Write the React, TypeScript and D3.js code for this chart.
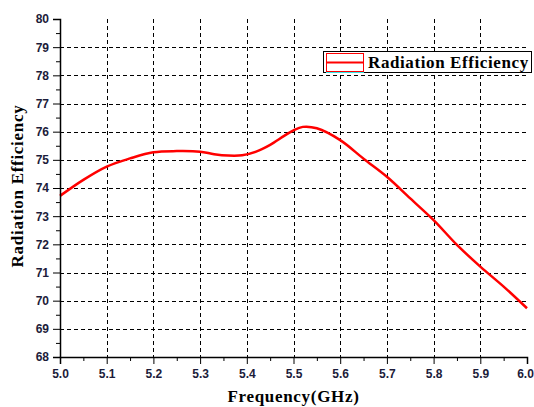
import React, { useEffect, useRef } from "react";
import * as d3 from "d3";

const freq = [5.0, 5.05, 5.1, 5.15, 5.2, 5.25, 5.3, 5.33, 5.36, 5.39, 5.42, 5.45, 5.48, 5.5, 5.52, 5.55, 5.6, 5.65, 5.7, 5.75, 5.8, 5.85, 5.9, 5.95, 6.0];
const efficiency = [73.72, 74.29, 74.76, 75.05, 75.27, 75.31, 75.29, 75.2, 75.15, 75.16, 75.29, 75.53, 75.85, 76.05, 76.17, 76.12, 75.7, 75.04, 74.4, 73.63, 72.86, 71.98, 71.21, 70.5, 69.73];
const xTicks = [5.0, 5.1, 5.2, 5.3, 5.4, 5.5, 5.6, 5.7, 5.8, 5.9, 6.0];
const yTicks = [68, 69, 70, 71, 72, 73, 74, 75, 76, 77, 78, 79, 80];
const seriesName = "Radiation Efficiency";

const App = () => {
  const svgRef = useRef<SVGSVGElement>(null);

  useEffect(() => {
    const svg = d3.select(svgRef.current);
    svg.selectAll("*").remove();

    const width = 534;
    const height = 407;
    const left = 60, right = 527, top = 19, bottom = 357;

    svg.attr("width", width).attr("height", height);
    svg.append("rect").attr("width", width).attr("height", height).attr("fill", "#fff");

    const x = d3.scaleLinear().domain([5.0, 6.0]).range([left, right]);
    const y = d3.scaleLinear().domain([68, 80]).range([bottom, top]);

    // Grid
    const grid = svg.append("g").attr("stroke", "#000").attr("stroke-width", 1).attr("stroke-dasharray", "4,3");
    grid.selectAll("line.v")
      .data(xTicks.slice(1, -1))
      .enter()
      .append("line")
      .attr("x1", d => Math.round(x(d)) + 0.5)
      .attr("x2", d => Math.round(x(d)) + 0.5)
      .attr("y1", top)
      .attr("y2", bottom);
    grid.selectAll("line.h")
      .data(yTicks.slice(1, -1))
      .enter()
      .append("line")
      .attr("x1", left)
      .attr("x2", right)
      .attr("y1", d => Math.round(y(d)) + 0.5)
      .attr("y2", d => Math.round(y(d)) + 0.5);

    // Curve
    const line = d3.line<number>()
      .x((d, i) => x(freq[i]))
      .y(d => y(d))
      .curve(d3.curveCatmullRom.alpha(0.5));
    svg.append("path")
      .datum(efficiency)
      .attr("d", line)
      .attr("fill", "none")
      .attr("stroke", "#ff0000")
      .attr("stroke-width", 2.5);

    const labelColor = "#1c1c3a";

    // X axis
    const xAxis = svg.append("g").attr("transform", `translate(0,${bottom})`)
      .call(d3.axisBottom(x).tickValues(xTicks).tickSize(7).tickFormat(d3.format(".1f")));
    xAxis.select(".domain").attr("stroke-width", 1.5);
    xAxis.selectAll("text")
      .attr("font-family", "Arial, 'Liberation Sans', sans-serif")
      .attr("font-weight", "bold")
      .attr("font-size", 12)
      .attr("fill", labelColor)
      .attr("y", 12)
      .attr("x", (d: any) => (d === 6.0 ? -2 : 0));
    svg.append("g").attr("transform", `translate(0,${bottom})`)
      .call(d3.axisBottom(x).tickValues(d3.range(5.05, 6, 0.1)).tickSize(4).tickFormat(() => ""))
      .select(".domain").remove();

    // Y axis
    const yAxis = svg.append("g").attr("transform", `translate(${left},0)`)
      .call(d3.axisLeft(y).tickValues(yTicks).tickSize(7).tickPadding(4));
    yAxis.select(".domain").attr("stroke-width", 1.5);
    yAxis.selectAll("text")
      .attr("font-family", "Arial, 'Liberation Sans', sans-serif")
      .attr("font-weight", "bold")
      .attr("font-size", 12)
      .attr("fill", labelColor);
    svg.append("g").attr("transform", `translate(${left},0)`)
      .call(d3.axisLeft(y).tickValues(d3.range(68.5, 80, 1)).tickSize(4).tickFormat(() => ""))
      .select(".domain").remove();

    // Axis titles
    svg.append("text")
      .attr("x", (left + right) / 2)
      .attr("y", 402)
      .attr("text-anchor", "middle")
      .attr("font-family", "'Liberation Serif', 'Times New Roman', serif")
      .attr("font-weight", "bold")
      .attr("font-size", 17)
      .attr("letter-spacing", 0.7)
      .text("Frequency(GHz)");
    svg.append("text")
      .attr("transform", `translate(23,186) rotate(-90)`)
      .attr("text-anchor", "middle")
      .attr("font-family", "'Liberation Serif', 'Times New Roman', serif")
      .attr("font-weight", "bold")
      .attr("font-size", 17)
      .attr("letter-spacing", 0.7)
      .text("Radiation Efficiency");

    // Legend
    const legend = svg.append("g");
    legend.append("rect")
      .attr("x", 323.5).attr("y", 51.5).attr("width", 208).attr("height", 21)
      .attr("fill", "#fff").attr("stroke", "#000").attr("stroke-width", 1);
    legend.append("rect")
      .attr("x", 326.5).attr("y", 53.5).attr("width", 37).attr("height", 18)
      .attr("fill", "none").attr("stroke", "#ff0000").attr("stroke-width", 1);
    legend.append("line")
      .attr("x1", 326).attr("x2", 364).attr("y1", 62.5).attr("y2", 62.5)
      .attr("stroke", "#ff0000").attr("stroke-width", 2);
    legend.append("line")
      .attr("x1", 326).attr("x2", 364).attr("y1", 72.5).attr("y2", 72.5)
      .attr("stroke", "#33e6e6").attr("stroke-width", 1);
    legend.append("text")
      .attr("x", 368).attr("y", 68)
      .attr("font-family", "'Liberation Serif', 'Times New Roman', serif")
      .attr("font-weight", "bold")
      .attr("font-size", 17)
      .attr("letter-spacing", 0.6)
      .text(seriesName);
  }, []);

  return <svg ref={svgRef} style={{ position: "absolute", left: 0, top: 0 }}></svg>;
};

export default App;
